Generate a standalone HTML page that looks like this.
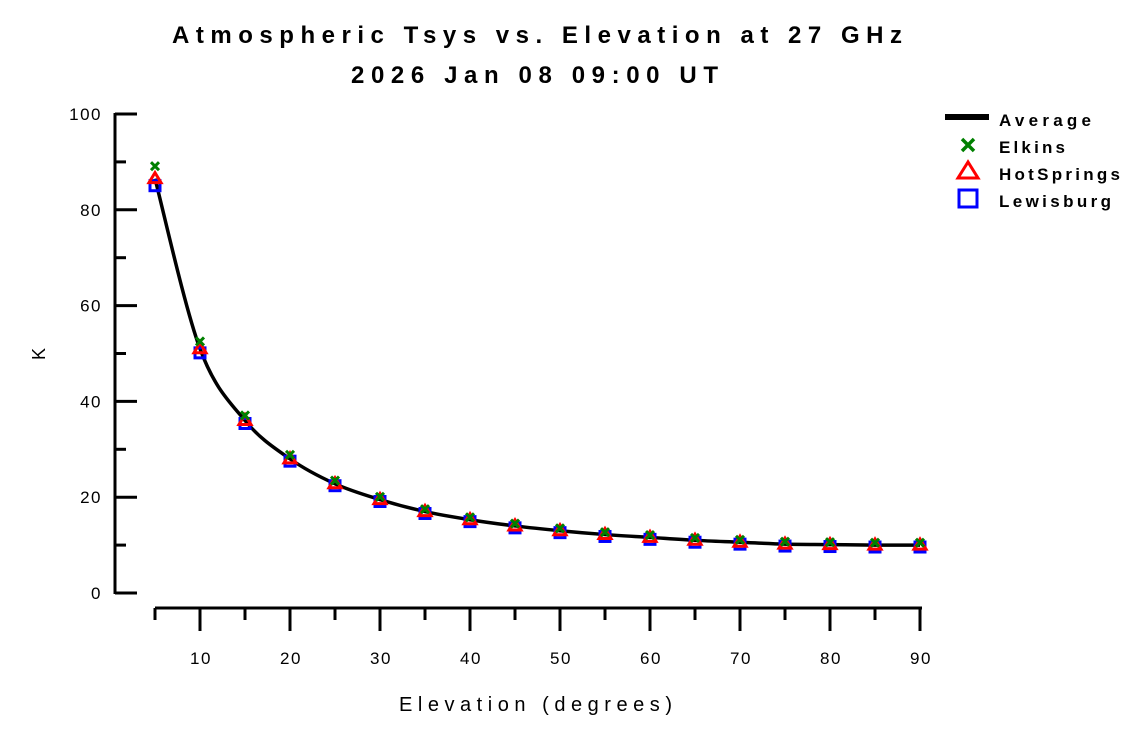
<!DOCTYPE html>
<html><head><meta charset="utf-8"><style>
html,body{margin:0;padding:0;background:#fff;}
svg{display:block;font-family:"Liberation Sans",sans-serif;}
</style></head><body>
<svg id="s" width="1125" height="731" viewBox="0 0 1125 731" xmlns="http://www.w3.org/2000/svg">
<rect width="1125" height="731" fill="#fff"/>
<text x="172" y="43" font-size="24" font-weight="bold" textLength="730" lengthAdjust="spacing">Atmospheric Tsys vs. Elevation at 27 GHz</text>
<text x="351" y="83" font-size="24" font-weight="bold" textLength="367" lengthAdjust="spacing">2026 Jan 08 09:00 UT</text>
<g stroke="#000" stroke-width="3" fill="none">
<line x1="115" y1="113" x2="115" y2="594"/>
<line x1="155" y1="608" x2="922" y2="608"/>
</g>
<g id="yt"></g><g id="xt"></g>
<text x="45" y="354" font-size="18" transform="rotate(-90 45 354)" text-anchor="middle">K</text>
<text x="399" y="711" font-size="20" textLength="273" lengthAdjust="spacing">Elevation (degrees)</text>
<g id="data"></g>
<line x1="945" y1="117" x2="989" y2="117" stroke="#000" stroke-width="6"/>
<text x="999" y="126" font-size="17" font-weight="bold" textLength="92" lengthAdjust="spacing">Average</text>
<path d="M962,139L974,151M974,139L962,151" stroke="#008000" stroke-width="3.5"/>
<text x="999" y="153" font-size="17" font-weight="bold" textLength="66" lengthAdjust="spacing">Elkins</text>
<polygon points="968,162 958,178 978,178" fill="none" stroke="#f00" stroke-width="3"/>
<text x="999" y="180" font-size="17" font-weight="bold" textLength="121" lengthAdjust="spacing">HotSprings</text>
<rect x="959" y="190" width="18" height="17" fill="none" stroke="#00f" stroke-width="3"/>
<text x="999" y="207" font-size="17" font-weight="bold" textLength="112" lengthAdjust="spacing">Lewisburg</text>
</svg>
<script>
var NS="http://www.w3.org/2000/svg";
function el(p,t,a,txt){var e=document.createElementNS(NS,t);for(var k in a)e.setAttribute(k,a[k]);if(txt!==undefined)e.textContent=txt;document.getElementById(p).appendChild(e);return e;}
function Y(v){return 593-4.79*v;}
function X(e){return 155+(e-5)*9;}
for(var v=0;v<=100;v+=10){var maj=v%20==0;el("yt","line",{x1:115,x2:maj?137:126,y1:Y(v),y2:Y(v),stroke:"#000","stroke-width":3});
 if(maj)el("yt","text",{x:102,y:Y(v)+6,"font-size":17,"text-anchor":"end","letter-spacing":"1.5"},String(v));}
for(var e=5;e<=90;e+=5){var maj=e%10==0;el("xt","line",{x1:X(e),x2:X(e),y1:608,y2:maj?631:620,stroke:"#000","stroke-width":3});
 if(maj)el("xt","text",{x:X(e)+1,y:664,"font-size":17,"text-anchor":"middle","letter-spacing":"1.5"},String(e));}
var avg=[86.5,51,36,28,22.8,19.5,17,15.3,14,13,12.2,11.6,11,10.6,10.2,10.1,10,10];
var P=[];for(var i=0;i<18;i++)P.push([X(5+5*i),Y(avg[i])]);
var d="M"+P[0][0]+","+P[0][1];
for(var i=0;i<17;i++){var p0=P[Math.max(0,i-1)],p1=P[i],p2=P[i+1],p3=P[Math.min(17,i+2)];
 var c1=[p1[0]+(p2[0]-p0[0])/6,p1[1]+(p2[1]-p0[1])/6],c2=[p2[0]-(p3[0]-p1[0])/6,p2[1]-(p3[1]-p1[1])/6];
 d+="C"+c1[0]+","+c1[1]+" "+c2[0]+","+c2[1]+" "+p2[0]+","+p2[1];}
el("data","path",{d:d,fill:"none",stroke:"#000","stroke-width":3.5,"stroke-linejoin":"round"});
for(var i=0;i<18;i++){var x=X(5+5*i);var a=avg[i];
 var dl=Math.max(0.4,a*0.017), de=Math.max(0.5,a*0.03);
 var yl=Y(a-dl);el("data","rect",{x:x-5,y:yl-5,width:10,height:10,fill:"none",stroke:"#00f","stroke-width":3});
 var yh=Y(a);el("data","polygon",{points:(x)+","+(yh-6)+" "+(x-6)+","+(yh+4)+" "+(x+6)+","+(yh+4),fill:"none",stroke:"#f00","stroke-width":3});
 var ye=Y(a+de);el("data","path",{d:"M"+(x-4)+","+(ye-4)+"L"+(x+4)+","+(ye+4)+"M"+(x+4)+","+(ye-4)+"L"+(x-4)+","+(ye+4),stroke:"#008000","stroke-width":3});
}
</script>
</body></html>
